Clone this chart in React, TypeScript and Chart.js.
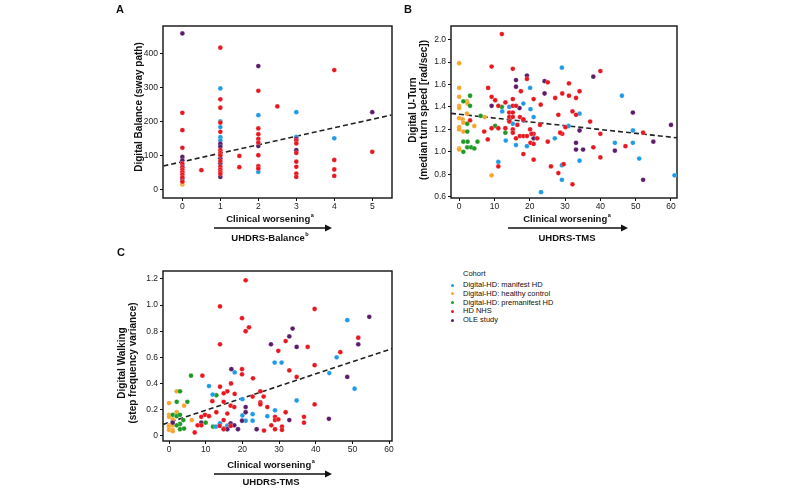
import React, { useEffect, useRef } from "react";
import { Chart, registerables } from "chart.js";

Chart.register(...registerables);

type Pt = [number, number];

const FONT = '"Liberation Sans", Arial, Helvetica, sans-serif';

const COHORTS = [
  "Digital-HD: manifest HD",
  "Digital-HD: healthy control",
  "Digital-HD: premanifest HD",
  "HD NHS",
  "OLE study",
];
const COHORT_COLORS = ["#1d9be6", "#f8a42a", "#1e9a24", "#e8161e", "#5a1b68"];

// ---------- Panel A : Digital Balance vs UHDRS-Balance ----------
const A_X_TICKS = [0, 1, 2, 3, 4, 5];
const A_Y_TICKS = [0, 100, 200, 300, 400];
const A_MANIFEST: Pt[] = [
  [0, 70], [1, 297], [1, 200], [1, 183], [1, 153], [1, 144], [1, 130],
  [2, 218], [2, 51], [3, 227], [3, 154], [4, 150],
];
const A_CONTROL: Pt[] = [[0, 14], [0, 21]];
const A_PREMANIFEST: Pt[] = [];
const A_NHS: Pt[] = [
  [0, 225], [0, 174], [0, 122], [0, 75], [0, 65], [0, 57], [0, 50], [0, 43], [0, 35], [0, 22],
  [0.5, 56],
  [1, 417], [1, 265], [1, 240], [1, 196], [1, 169], [1, 115], [1, 107], [1, 100], [1, 83], [1, 66], [1, 58], [1, 51], [1, 45],
  [1.5, 98], [1.5, 65],
  [2, 290], [2, 179], [2, 162], [2, 148], [2, 137], [2, 100], [2, 68], [2, 61],
  [2.5, 244],
  [3, 144], [3, 135], [3, 107], [3, 81], [3, 66], [3, 46], [3, 36],
  [4, 351], [4, 86], [4, 58], [4, 39],
  [5, 110],
];
const A_OLE: Pt[] = [
  [0, 459], [0, 95], [0, 85], [0, 30],
  [1, 134], [1, 125], [1, 91], [1, 76], [1, 36],
  [2, 363], [2, 127], [3, 149], [3, 115], [5, 227],
];
const A_TREND_X = [-0.5, 5.5];
const A_TREND_Y = [68.5, 218.5];

// ---------- Panel B : Digital U-Turn vs UHDRS-TMS ----------
const B_X_TICKS = [0, 10, 20, 30, 40, 50, 60];
const B_Y_TICKS = [0.6, 0.8, 1.0, 1.2, 1.4, 1.6, 1.8, 2.0];
const B_MANIFEST: Pt[] = [
  [11.1, 0.91], [12.2, 1.36], [14.2, 1.40], [13.2, 1.10], [15.2, 1.25], [16.1, 1.06], [18.2, 1.43],
  [19.2, 1.05], [20.1, 1.57], [20.2, 1.38], [21.1, 1.31], [27.1, 1.12], [29.1, 1.75], [29.1, 0.88],
  [29.1, 0.75], [23.2, 0.64], [31.0, 1.23], [34.1, 1.34], [34.1, 0.92], [46.1, 1.50], [49.2, 1.19],
  [44.1, 1.08], [49.2, 1.08], [51.0, 0.94], [61, 0.79],
];
const B_CONTROL: Pt[] = [
  [0, 1.79], [0, 1.57], [0, 1.49], [0, 1.41], [0, 1.39], [0, 1.30], [0, 1.22], [0, 1.20], [0, 1.03],
  [0, 1.02], [1, 1.29], [1.2, 1.26], [2.2, 1.45], [2.4, 1.43], [2.2, 1.34], [4.3, 1.23], [1.2, 1.18],
  [7.2, 1.31], [9.2, 0.79],
];
const B_PREMANIFEST: Pt[] = [
  [3.1, 1.50], [1.2, 1.45], [3.1, 1.41], [2.3, 1.25], [2.3, 1.18], [1.2, 1.09], [2.4, 1.09], [1.2, 1.0],
  [2.3, 1.04], [3.4, 1.04], [4.3, 1.03], [5.2, 1.09], [6.1, 1.32], [10.2, 1.23], [12.1, 1.40], [13.1, 1.17],
];
const B_NHS: Pt[] = [
  [12.1, 2.05], [9.2, 1.76], [15.2, 1.74], [8.2, 1.57], [9.2, 1.49], [10.2, 1.46], [19.2, 1.65],
  [17.5, 1.54], [15.2, 1.47], [13.1, 1.44], [11.1, 1.41], [14.2, 1.35], [15.2, 1.41], [16.1, 1.41],
  [15.2, 1.35], [14.2, 1.31], [15.2, 1.31], [14.2, 1.27], [3.1, 1.28], [7.1, 1.18], [8.1, 1.11],
  [9.2, 1.21], [11.1, 1.21], [13.1, 1.21], [15.2, 1.20], [15.2, 1.17], [17.2, 1.31], [18.2, 1.29],
  [16.1, 1.12], [17.2, 1.14], [18.2, 1.14], [19.2, 1.14], [20.1, 1.20], [20.2, 1.08], [21.1, 1.07],
  [18.2, 0.98], [21.1, 1.16], [21.1, 0.93], [21.1, 1.47], [25.1, 1.62], [25.1, 1.09], [27.2, 1.48],
  [29.2, 1.52], [31.1, 1.61], [31.1, 1.50], [33.1, 1.48], [34.1, 1.54], [32.1, 1.36], [33.1, 1.33],
  [30.1, 1.22], [29.2, 1.16], [28.1, 1.33], [28.1, 0.81], [29.6, 0.89], [32.1, 0.71], [26.0, 0.87],
  [11.1, 0.87], [23.1, 1.42], [22.9, 1.24], [22.1, 1.12], [37.1, 1.27], [38, 1.04], [40, 1.72],
  [40, 1.16], [40, 0.95], [47.1, 1.05], [52.1, 1.17], [28.6, 1.17], [16.5, 1.24], [20.5, 1.16],
];
const B_OLE: Pt[] = [
  [9.2, 1.41], [16.1, 1.64], [16.1, 1.58], [17.1, 1.39], [19.2, 1.68], [18.2, 1.28], [24.2, 1.63],
  [24.2, 1.52], [21.1, 1.12], [38.0, 1.67], [49.2, 1.35], [34.1, 1.19], [33.1, 1.08], [33.1, 1.02],
  [35.1, 1.02], [44.1, 1.01], [55, 1.09], [52.1, 0.75], [60, 1.24],
];
const B_TREND_X = [-2.3, 61.7];
const B_TREND_Y = [1.343, 1.125];

// ---------- Panel C : Digital Walking vs UHDRS-TMS ----------
const C_X_TICKS = [0, 10, 20, 30, 40, 50, 60];
const C_Y_TICKS = [0, 0.2, 0.4, 0.6, 0.8, 1.0, 1.2];
const C_MANIFEST: Pt[] = [
  [10.9, 0.38], [11.9, 0.315], [17.9, 0.485], [28.8, 0.56], [30.7, 0.56], [20, 0.28], [34.8, 0.27],
  [20, 0.155], [22.8, 0.165], [26.8, 0.15], [28.9, 0.195], [20.9, 0.115], [22.8, 0.115], [13.9, 0.095],
  [12.8, 0.07], [15.9, 0.075], [43.7, 0.48], [45.7, 0.60], [48.6, 0.885], [50.6, 0.36],
];
const C_CONTROL: Pt[] = [
  [0, 0.25], [0, 0.16], [0, 0.145], [0, 0.08], [0, 0.07], [0, 0.045], [1, 0.045], [1, 0.08], [1, 0.125],
  [2.1, 0.34], [4.1, 0.23], [2.1, 0.18], [1, 0.035], [6.2, 0.12], [16, 0.08],
];
const C_PREMANIFEST: Pt[] = [
  [3, 0.34], [2.1, 0.26], [5, 0.26], [6, 0.46], [1, 0.16], [2.1, 0.15], [3, 0.16], [3, 0.09],
  [3.9, 0.12], [2.1, 0.08], [3, 0.05], [4.1, 0.055], [10, 0.10], [12, 0.07], [12.9, 0.31],
];
const C_NHS: Pt[] = [
  [20.9, 1.19], [13.9, 0.99], [19.9, 0.90], [21.8, 0.83], [20.9, 0.80], [13.9, 0.70], [39.7, 0.97],
  [29.8, 0.65], [31.8, 0.725], [37.8, 0.68], [32.8, 0.50], [34.8, 0.45], [39.7, 0.54], [46.7, 0.64],
  [51.6, 0.75], [19.9, 0.51], [19.9, 0.47], [22.9, 0.44], [9.1, 0.46], [16.9, 0.40], [13.9, 0.375],
  [15.9, 0.34], [14.9, 0.325], [17.9, 0.32], [11.8, 0.265], [14.9, 0.26], [15.9, 0.17], [16.8, 0.23],
  [17.8, 0.22], [12.9, 0.18], [9.8, 0.16], [8.8, 0.145], [10.9, 0.15], [7.8, 0.08], [7.0, 0.025],
  [8.8, 0.08], [13.8, 0.075], [14.9, 0.12], [14.9, 0.05], [16.8, 0.075], [22.8, 0.30], [24.9, 0.34],
  [24.9, 0.255], [24.9, 0.24], [25.8, 0.30], [26.8, 0.22], [27.9, 0.08], [28.9, 0.145], [28.9, 0.12],
  [28.9, 0.05], [25.9, 0.04], [29.8, 0.125], [30.8, 0.07], [30.8, 0.045], [31.8, 0.18], [36.8, 0.145],
  [36.8, 0.10], [39.7, 0.24],
];
const C_OLE: Pt[] = [
  [33.7, 0.82], [32.8, 0.76], [27.8, 0.70], [34.8, 0.68], [54.6, 0.91], [51.6, 0.70], [48.6, 0.45],
  [43.6, 0.13], [32.8, 0.12], [17, 0.51], [20.9, 0.22], [20.9, 0.18], [19.9, 0.115], [23.9, 0.05],
  [16.8, 0.095], [17.8, 0.08], [18.8, 0.05], [14.9, 0.055], [15.9, 0.05], [8.8, 0.10], [1, 0.10],
];
const C_TREND_X = [-1.6, 60.8];
const C_TREND_Y = [0.087, 0.667];

// ---------- chart helpers ----------
type PanelCfg = {
  left: number; top: number; w: number; h: number;
  padTop: number; padRight: number; yWidth: number; xHeight: number;
  xMin: number; xMax: number; yMin: number; yMax: number;
  xTicks: number[]; yTicks: number[];
  yFmt: (v: number) => string;
  series: Pt[][]; // in COHORTS order
  trendX: number[]; trendY: number[];
};

const boxPlugin = {
  id: "boxFrame",
  beforeDatasetsDraw(chart: any) {
    const { ctx, chartArea: a } = chart;
    ctx.save();
    ctx.strokeStyle = "#111";
    ctx.lineWidth = 1.4;
    ctx.strokeRect(a.left, a.top, a.right - a.left, a.bottom - a.top);
    ctx.restore();
  },
};

const DRAW_ORDER = [3, 4, 0, 2, 1];

function Panel({ cfg }: { cfg: PanelCfg }) {
  const ref = useRef<HTMLCanvasElement>(null);
  useEffect(() => {
    const tickFont = { family: FONT, size: 8.5 };
    const datasets: any[] = DRAW_ORDER.map((ci) => ({
      label: COHORTS[ci],
      data: cfg.series[ci].map(([x, y]) => ({ x, y })),
      backgroundColor: COHORT_COLORS[ci],
      borderColor: "rgba(255,255,255,0.6)",
      borderWidth: 0.4,
      pointRadius: 2.4,
      pointHoverRadius: 2.4,
    }));
    datasets.push({
      label: "trend",
      data: cfg.trendX.map((x, i) => ({ x, y: cfg.trendY[i] })),
      showLine: true,
      borderColor: "#222",
      borderWidth: 1.6,
      borderDash: [5, 3],
      pointRadius: 0,
      fill: false,
    });
    const chart = new Chart(ref.current!, {
      type: "scatter",
      data: { datasets },
      plugins: [boxPlugin],
      options: {
        animation: false,
        responsive: false,
        events: [],
        layout: { padding: { top: cfg.padTop, right: cfg.padRight, left: 0, bottom: 0 } },
        plugins: { legend: { display: false }, tooltip: { enabled: false } },
        scales: {
          x: {
            type: "linear",
            min: cfg.xMin,
            max: cfg.xMax,
            afterBuildTicks: (s: any) => { s.ticks = cfg.xTicks.map((v) => ({ value: v })); },
            afterFit: (s: any) => { s.height = cfg.xHeight; },
            grid: { drawOnChartArea: false, drawTicks: true, tickLength: 3, color: "#111", lineWidth: 1 },
            border: { display: false },
            ticks: { font: tickFont, color: "#222", padding: 1, maxRotation: 0, autoSkip: false, callback: (v: any) => String(v) },
          },
          y: {
            type: "linear",
            min: cfg.yMin,
            max: cfg.yMax,
            afterBuildTicks: (s: any) => { s.ticks = cfg.yTicks.map((v) => ({ value: v })); },
            afterFit: (s: any) => { s.width = cfg.yWidth; },
            grid: { drawOnChartArea: false, drawTicks: true, tickLength: 3, color: "#111", lineWidth: 1 },
            border: { display: false },
            ticks: { font: tickFont, color: "#222", padding: 2, autoSkip: false, callback: (v: any) => cfg.yFmt(Number(v)) },
          },
        },
      } as any,
    });
    return () => chart.destroy();
  }, []);
  return (
    <canvas
      ref={ref}
      width={cfg.w}
      height={cfg.h}
      style={{ position: "absolute", left: cfg.left, top: cfg.top, width: cfg.w, height: cfg.h }}
    />
  );
}

const PANEL_A: PanelCfg = {
  left: 100, top: 0, w: 300, h: 215, padTop: 26, padRight: 8, yWidth: 63, xHeight: 17,
  xMin: -0.51, xMax: 5.52, yMin: -26, yMax: 481,
  xTicks: A_X_TICKS, yTicks: A_Y_TICKS, yFmt: (v) => String(v),
  series: [A_MANIFEST, A_CONTROL, A_PREMANIFEST, A_NHS, A_OLE],
  trendX: A_TREND_X, trendY: A_TREND_Y,
};
const PANEL_B: PanelCfg = {
  left: 380, top: 0, w: 300, h: 215, padTop: 26, padRight: 3, yWidth: 71, xHeight: 17,
  xMin: -2.3, xMax: 61.7, yMin: 0.588, yMax: 2.122,
  xTicks: B_X_TICKS, yTicks: B_Y_TICKS, yFmt: (v) => v.toFixed(1),
  series: [B_MANIFEST, B_CONTROL, B_PREMANIFEST, B_NHS, B_OLE],
  trendX: B_TREND_X, trendY: B_TREND_Y,
};
const PANEL_C: PanelCfg = {
  left: 100, top: 230, w: 300, h: 230, padTop: 41, padRight: 8, yWidth: 63, xHeight: 19,
  xMin: -1.64, xMax: 60.8, yMin: -0.04, yMax: 1.261,
  xTicks: C_X_TICKS, yTicks: C_Y_TICKS, yFmt: (v) => (v === 0 ? "0" : v.toFixed(1)),
  series: [C_MANIFEST, C_CONTROL, C_PREMANIFEST, C_NHS, C_OLE],
  trendX: C_TREND_X, trendY: C_TREND_Y,
};

// ---------- text helpers ----------
const Txt = ({ x, y, size, bold, children, align = "center" }: any) => (
  <div
    style={{
      position: "absolute", left: x, top: y, fontFamily: FONT, fontSize: size,
      fontWeight: bold ? 700 : 400, color: "#111", whiteSpace: "nowrap", lineHeight: 1,
      transform: align === "center" ? "translate(-50%, -50%)" : "translate(0, -50%)",
    }}
  >
    {children}
  </div>
);

const VTitle = ({ x, y, lines }: { x: number; y: number; lines: string[] }) => (
  <div
    style={{
      position: "absolute", left: x, top: y, fontFamily: FONT, fontSize: 10, fontWeight: 700,
      color: "#111", whiteSpace: "nowrap", lineHeight: "11px", textAlign: "center",
      transform: "translate(-50%, -50%) rotate(-90deg)",
    }}
  >
    {lines.map((l, i) => <div key={i}>{l}</div>)}
  </div>
);

const Arrow = ({ x1, x2, y }: { x1: number; x2: number; y: number }) => (
  <svg style={{ position: "absolute", left: x1, top: y - 5, overflow: "visible" }} width={x2 - x1} height={10}>
    <line x1={0} y1={5} x2={x2 - x1 - 6} y2={5} stroke="#111" strokeWidth={1.3} />
    <polygon points={`${x2 - x1 - 7},1.5 ${x2 - x1},5 ${x2 - x1 - 7},8.5`} fill="#111" />
  </svg>
);

const Sup = ({ c }: { c: string }) => (
  <span style={{ fontSize: 5.5, verticalAlign: "top", position: "relative", top: -1, marginLeft: 0.5 }}>{c}</span>
);

const LEGEND_Y = [285, 293.8, 302.6, 311.4, 320.2];

export default function App() {
  return (
    <div style={{ position: "absolute", left: 0, top: 0, width: 800, height: 489, background: "#fff", overflow: "hidden" }}>
      <Panel cfg={PANEL_A} />
      <Panel cfg={PANEL_B} />
      <Panel cfg={PANEL_C} />

      <Txt x={120} y={8.5} size={11} bold>A</Txt>
      <Txt x={408} y={8.5} size={11} bold>B</Txt>
      <Txt x={121} y={252} size={11} bold>C</Txt>

      <VTitle x={138} y={107} lines={["Digital Balance (sway path)"]} />
      <VTitle x={417.5} y={110} lines={["Digital U-Turn", "(median turn speed [rad/sec])"]} />
      <VTitle x={126.5} y={363} lines={["Digital Walking", "(step frequency variance)"]} />

      <Txt x={270} y={219} size={9.5} bold>Clinical worsening<Sup c="a" /></Txt>
      <Arrow x1={214} x2={332} y={228} />
      <Txt x={270} y={238} size={9.5} bold>UHDRS-Balance<Sup c="b" /></Txt>

      <Txt x={567} y={219} size={9.5} bold>Clinical worsening<Sup c="a" /></Txt>
      <Arrow x1={508} x2={628} y={228} />
      <Txt x={567} y={238} size={9.5} bold>UHDRS-TMS</Txt>

      <Txt x={271} y={465} size={9.5} bold>Clinical worsening<Sup c="a" /></Txt>
      <Arrow x1={214} x2={332} y={474} />
      <Txt x={271} y={482} size={9.5} bold>UHDRS-TMS</Txt>

      <Txt x={463} y={274} size={7.5} align="left">Cohort</Txt>
      {COHORTS.map((c, i) => (
        <React.Fragment key={c}>
          <div style={{ position: "absolute", left: 450.5, top: LEGEND_Y[i] - 1.5, width: 3, height: 3, borderRadius: "50%", background: COHORT_COLORS[i] }} />
          <Txt x={463} y={LEGEND_Y[i]} size={7.5} align="left">{c}</Txt>
        </React.Fragment>
      ))}
    </div>
  );
}
